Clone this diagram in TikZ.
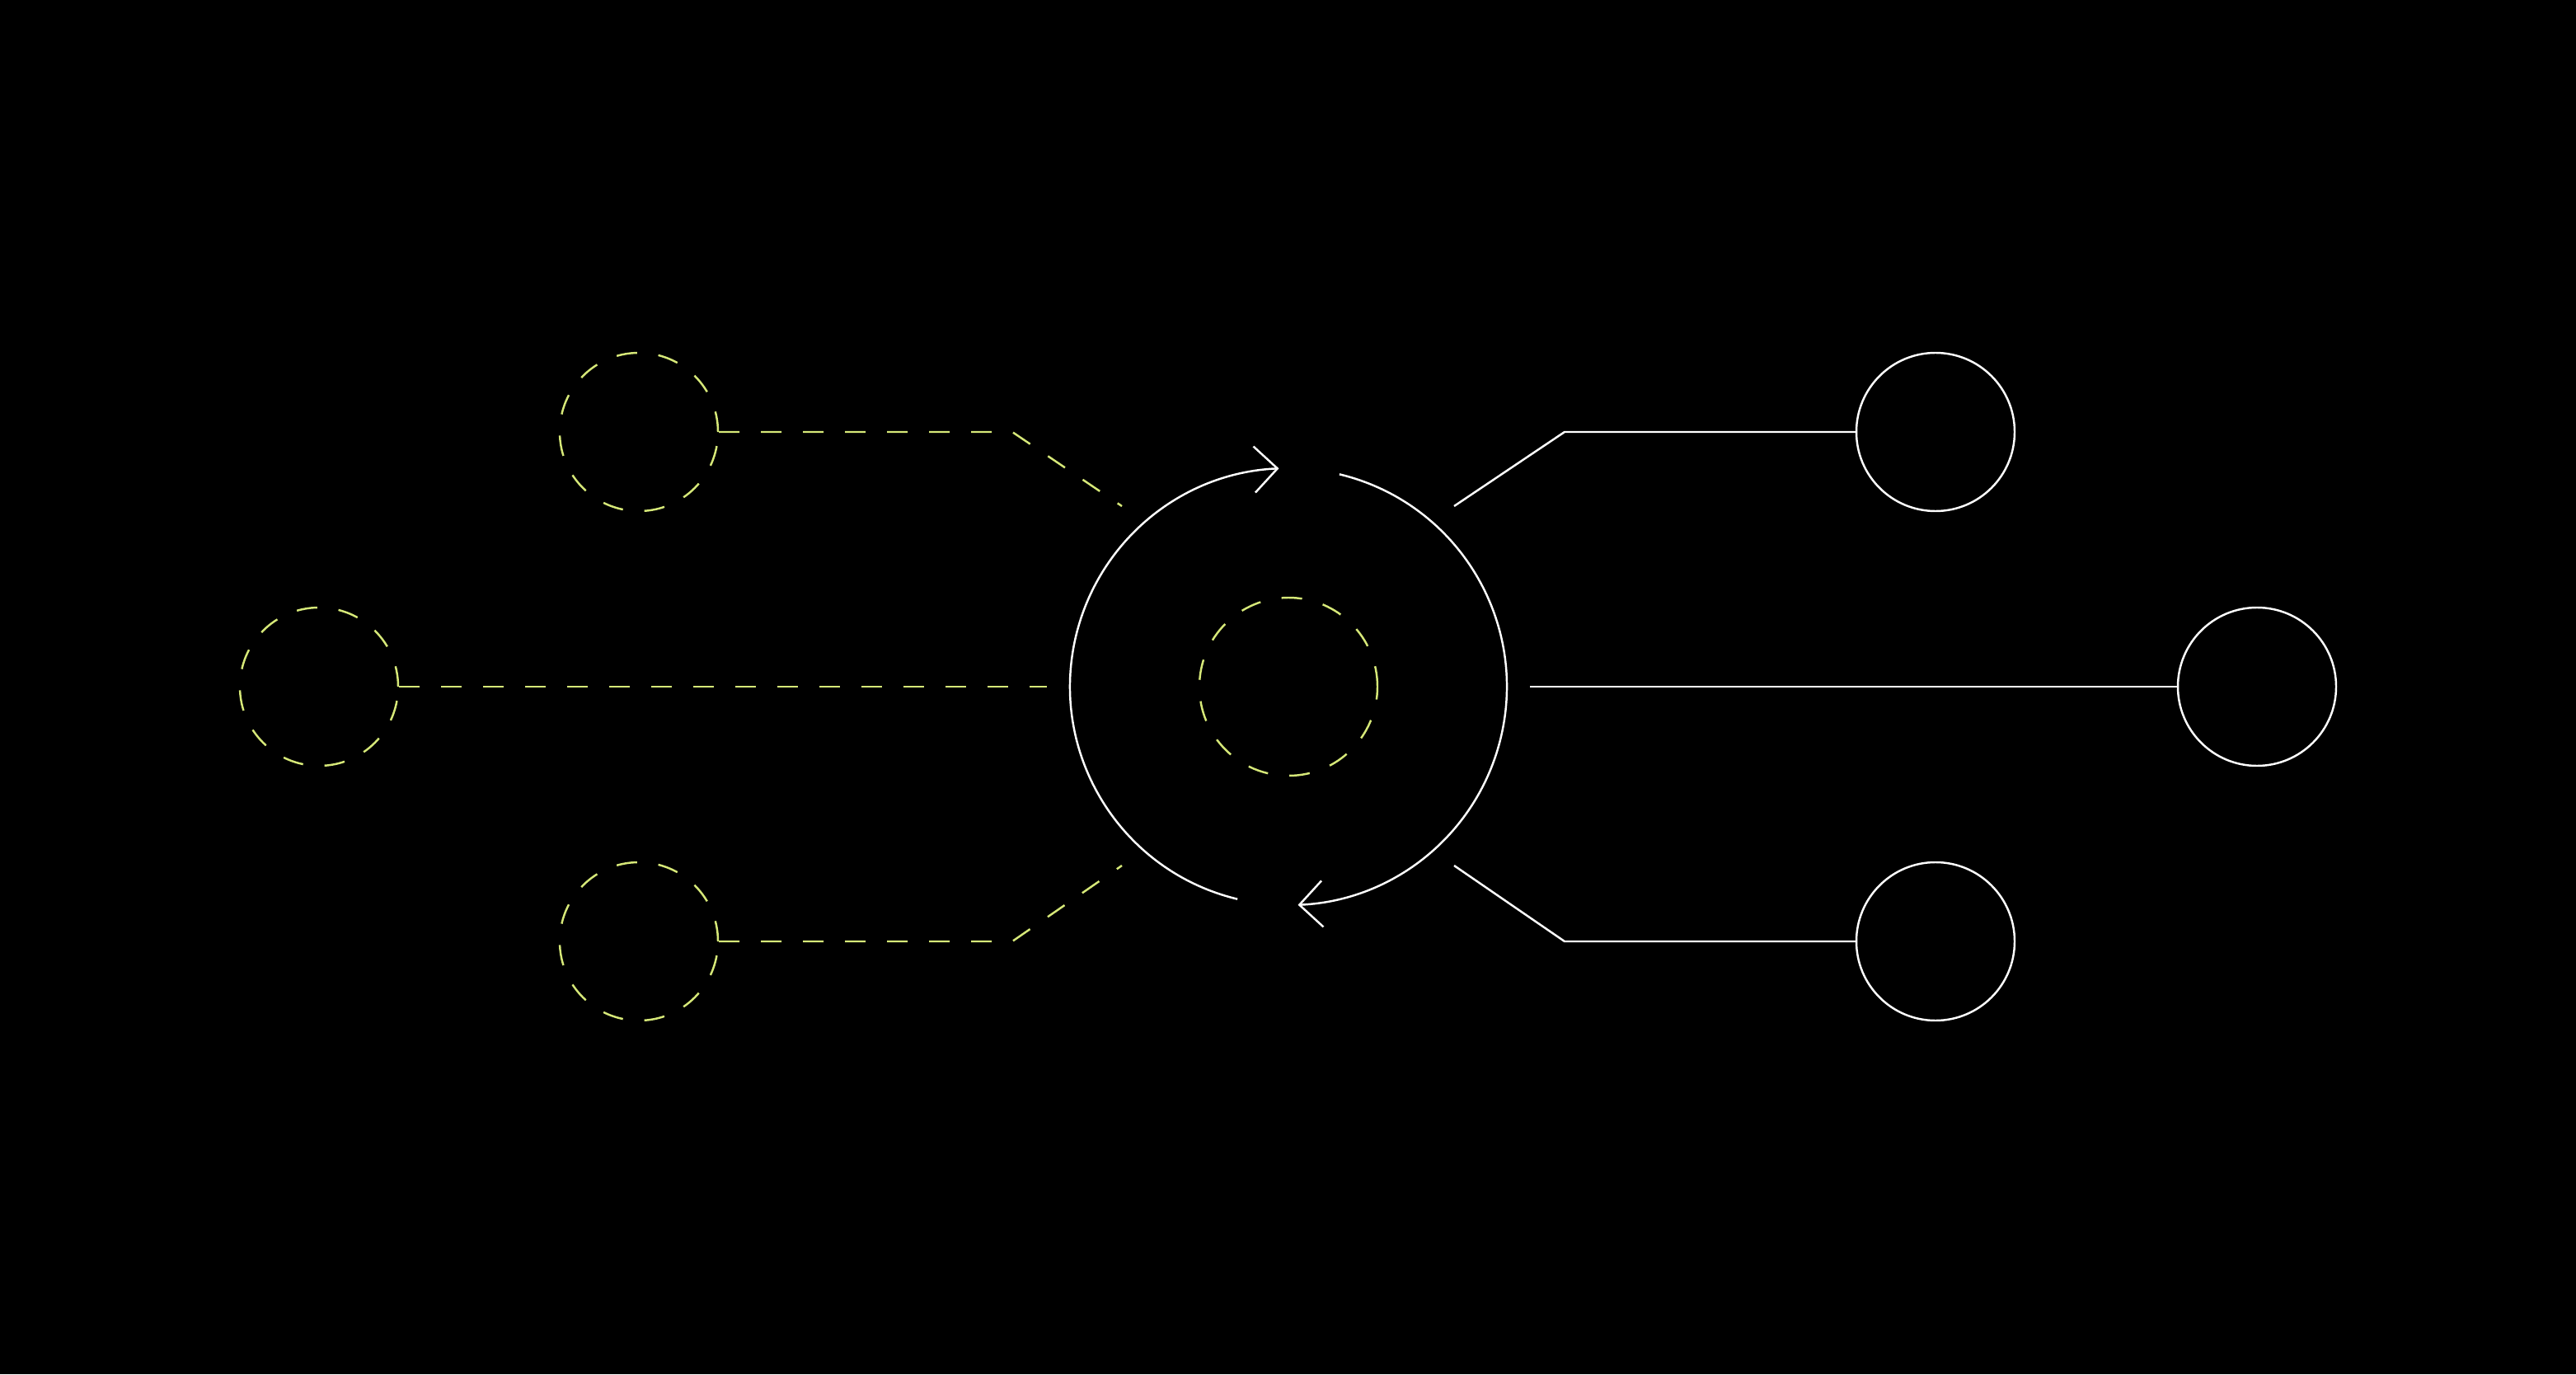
\documentclass[tikz,border=0pt]{standalone}
\usetikzlibrary{arrows.meta}
\definecolor{accent}{HTML}{D6E878}
\begin{document}
\begin{tikzpicture}[line width=0.7pt,
  dashnode/.style={draw=accent,circle,minimum size=1.92cm,inner sep=0pt,dash pattern=on 0.25cm off 0.26cm},
  solidnode/.style={draw=white,circle,minimum size=1.92cm,inner sep=0pt},
  dashlink/.style={draw=accent,dash pattern=on 0.25cm off 0.26cm},
  link/.style={draw=white},
  turn/.style={draw=white,-{Straight Barb[length=0.28cm,width=0.56cm]}}]
\fill[black] (0,0) rectangle (31.25,16.67);
\useasboundingbox (0,0) rectangle (31.25,16.67);
\coordinate (hub) at (15.63,8.34);
\node[dashnode,minimum size=2.16cm] (core) at (hub) {};
\node[dashnode] (in1) at (7.75,11.43) {};
\node[dashnode] (in2) at (3.87,8.34) {};
\node[dashnode] (in3) at (7.75,5.25) {};
\node[solidnode] (out1) at (23.48,11.43) {};
\node[solidnode] (out2) at (27.38,8.34) {};
\node[solidnode] (out3) at (23.48,5.25) {};
\coordinate (a1) at (12.28,11.43);
\coordinate (a3) at (12.28,5.25);
\coordinate (b1) at (18.98,11.43);
\coordinate (b3) at (18.98,5.25);
\coordinate (e1) at (13.61,10.53);
\coordinate (e2) at (12.70,8.34);
\coordinate (e3) at (13.61,6.17);
\coordinate (f1) at (17.64,10.53);
\coordinate (f2) at (18.56,8.34);
\coordinate (f3) at (17.64,6.17);
\draw[dashlink] (in1) -- (a1) -- (e1);
\draw[dashlink] (in2) -- (e2);
\draw[dashlink] (in3) -- (a3) -- (e3);
\draw[link] (f1) -- (b1) -- (out1);
\draw[link] (f2) -- (out2);
\draw[link] (f3) -- (b3) -- (out3);
\draw[turn] ([shift={(256.5:2.65)}]hub) arc[start angle=256.5,end angle=92.5,radius=2.65];
\draw[turn] ([shift={(76.5:2.65)}]hub) arc[start angle=76.5,end angle=-87.5,radius=2.65];
\end{tikzpicture}
\end{document}
